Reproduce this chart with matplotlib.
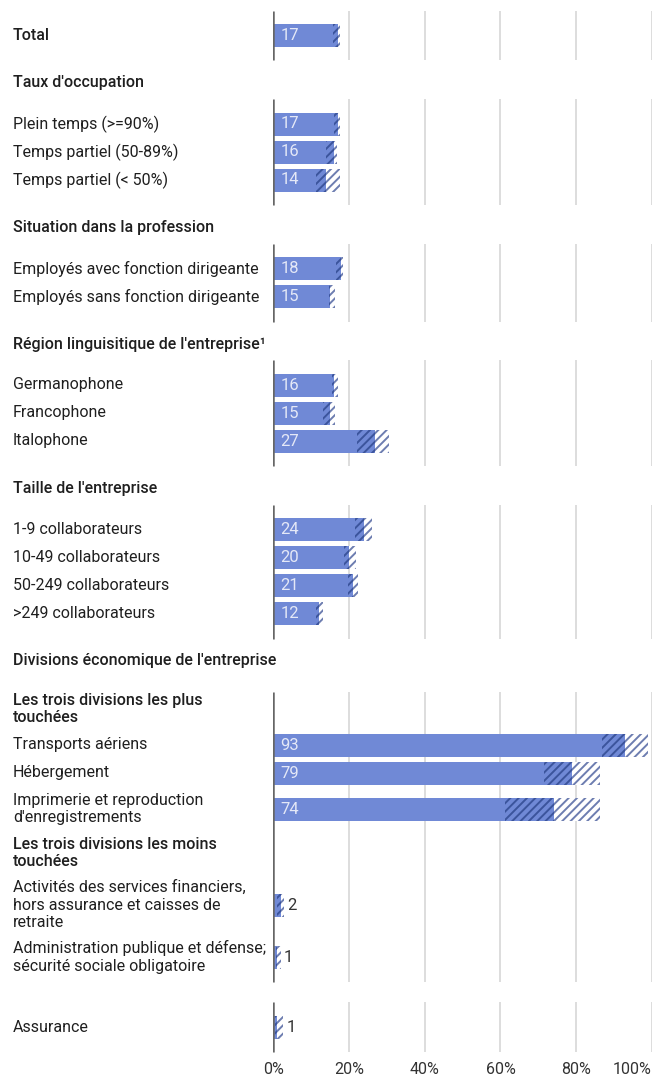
import matplotlib
matplotlib.use("Agg")
import matplotlib.pyplot as plt
import matplotlib.transforms as mtransforms

plt.rcParams["font.family"] = ["Roboto", "DejaVu Sans"]
plt.rcParams["hatch.linewidth"] = 1.4

# data: value, lower bound, upper bound per row
total_labels = ["Total"]
total_vals = [17]
total_lo = [15.9]
total_hi = [17.6]

taux_labels = ["Plein temps (>=90%)", "Temps partiel (50-89%)", "Temps partiel (< 50%)"]
taux_vals = [17, 16, 14]
taux_lo = [16.0, 13.9, 11.3]
taux_hi = [17.6, 16.9, 17.6]

situation_labels = ["Employés avec fonction dirigeante", "Employés sans fonction dirigeante"]
situation_vals = [18, 15]
situation_lo = [16.6, 14.6]
situation_hi = [18.3, 16.3]

region_labels = ["Germanophone", "Francophone", "Italophone"]
region_vals = [16, 15, 27]
region_lo = [15.5, 13.1, 22.0]
region_hi = [17.1, 16.3, 30.6]

taille_labels = ["1-9 collaborateurs", "10-49 collaborateurs", "50-249 collaborateurs", ">249 collaborateurs"]
taille_vals = [24, 20, 21, 12]
taille_lo = [21.7, 18.7, 19.7, 11.3]
taille_hi = [26.2, 21.8, 22.5, 13.1]

plus_labels = ["Transports aériens", "Hébergement", "Imprimerie et reproduction\nd'enregistrements"]
plus_vals = [93, 79, 74]
plus_lo = [86.7, 71.6, 61.3]
plus_hi = [98.9, 86.2, 86.2]

moins_labels = ["Activités des services financiers,\nhors assurance et caisses de\nretraite",
                "Administration publique et défense;\nsécurité sociale obligatoire"]
moins_vals = [2, 1]
moins_lo = [1.1, 0.8]
moins_hi = [2.9, 2.0]

assur_labels = ["Assurance"]
assur_vals = [1]
assur_lo = [0.5]
assur_hi = [2.7]

ticks = [0, 20, 40, 60, 80, 100]

BAR = "#7089d6"
DARK = "#3b549c"
LIGHT = "#6d7db0"
GRID = "#dadada"
TXT = "#1f1f1f"
FS = 11.5
HATCH = "////"

W, H = 654, 1075
fig = plt.figure(figsize=(W / 100, H / 100), dpi=100)
x0, x100 = 273.2, 652.0
ax = fig.add_axes([x0 / W, 0, (x100 - x0) / W, 1])
ax.set_xlim(0, 100)
ax.set_ylim(H, 0)
ax.axis("off")
lab_tr = mtransforms.blended_transform_factory(fig.transFigure, ax.transData)
LX = 13 / W


def panel(top, bottom):
    for t in ticks[1:]:
        ax.vlines(t, top, bottom, color=GRID, lw=1.3, zorder=1)
    ax.vlines(0, top, bottom, color="#666666", lw=1.8, zorder=5)


def bar(y, label, v, lo, hi, bold=False):
    ax.text(LX, y, label, transform=lab_tr, ha="left", va="center",
            fontsize=FS, color=TXT, linespacing=1.2,
            fontweight="medium" if bold else "normal")
    ax.barh(y, lo, height=23, left=0, color=BAR, lw=0, zorder=2)
    ax.barh(y, v - lo, height=23, left=lo, facecolor=BAR, edgecolor=DARK,
            hatch=HATCH, lw=0, zorder=2)
    ax.barh(y, hi - v, height=23, left=v, facecolor="white", edgecolor=LIGHT,
            hatch=HATCH, lw=0, zorder=2)
    if v >= 8:
        ax.annotate(str(v), (0, y), xytext=(7, 0), textcoords="offset pixels",
                    ha="left", va="center", fontsize=FS + 0.5, color="#e4e8f7", zorder=6)
    else:
        ax.annotate(str(v), (hi, y), xytext=(3, 0), textcoords="offset pixels",
                    ha="left", va="center", fontsize=FS + 0.5, color="#333333", zorder=6)


def header(y, text):
    ax.text(LX, y, text, transform=lab_tr, ha="left", va="center",
            fontsize=FS, color=TXT, fontweight="medium", linespacing=1.2)


# Total
y = 35
panel(y - 24, y + 25)
bar(y, total_labels[0], total_vals[0], total_lo[0], total_hi[0], bold=True)

groups = [
    ("Taux d'occupation", taux_labels, taux_vals, taux_lo, taux_hi),
    ("Situation dans la profession", situation_labels, situation_vals, situation_lo, situation_hi),
    ("Région linguisitique de l'entreprise¹", region_labels, region_vals, region_lo, region_hi),
    ("Taille de l'entreprise", taille_labels, taille_vals, taille_lo, taille_hi),
]
gap = 48
for title, labels, vals, lo, hi in groups:
    hy = y + gap
    gap = 47.5
    header(hy, title)
    y = hy + 41
    first = y
    for i in range(len(labels)):
        if i > 0:
            y += 28
        bar(y, labels[i], vals[i], lo[i], hi[i])
    panel(first - 25, y + 25)

# Divisions
hy = y + 47.5
header(hy, "Divisions économique de l'entreprise")
entries = [("sub", "Les trois divisions les plus\ntouchées")]
entries += [("bar", plus_labels[i], plus_vals[i], plus_lo[i], plus_hi[i]) for i in range(3)]
entries += [("sub", "Les trois divisions les moins\ntouchées")]
entries += [("bar", moins_labels[i], moins_vals[i], moins_lo[i], moins_hi[i]) for i in range(2)]
prev_n = 1
y = hy + 48
first = None
for e in entries:
    n = e[1].count("\n") + 1
    if first is None:
        first = y
    else:
        y += 28 + 8 * (prev_n - 1) + 8 * (n - 1)
    if e[0] == "sub":
        header(y, e[1])
    else:
        bar(y, *e[1:])
    prev_n = n
panel(first - 17, y + 25)

# Assurance
y += 70
bar(y, assur_labels[0], assur_vals[0], assur_lo[0], assur_hi[0])
panel(y - 25, y + 25)

for t in ticks:
    ax.text(t, y + 42, f"{t}%", ha="right" if t == 100 else "center", va="center",
            fontsize=FS, color="#333333")

fig.savefig("out.png", dpi=100)
